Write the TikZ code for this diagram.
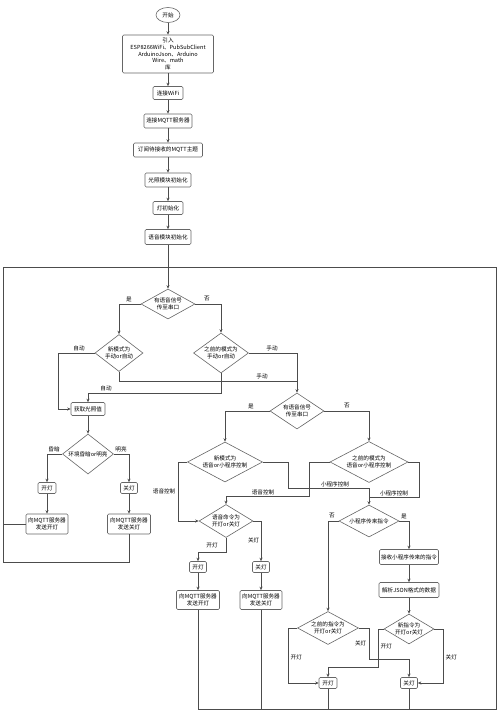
\documentclass[tikz,border=0pt]{standalone}
\usepackage{fontspec}
\setmainfont{Noto Sans CJK SC}
\usetikzlibrary{shapes.geometric,arrows.meta}
\newcommand{\fs}{\fontsize{5.6}{6.8}\selectfont}
\tikzset{
  ln/.style={draw=black!70, line width=0.6pt},
  arr/.style={ln, -{Stealth[length=3.5pt,width=3pt]}},
  box/.style={draw=black!60, line width=0.6pt, rounded corners=1.2pt, fill=white, inner sep=0.5pt, align=center, font=\fs},
  term/.style={ellipse, draw=black!60, line width=0.6pt, fill=white, inner sep=0pt, font=\fs, minimum width=24, minimum height=15},
  dec/.style={diamond, draw=black!60, line width=0.6pt, fill=white, inner sep=0pt, align=center, font=\fs},
  lbl/.style={font=\fs, inner sep=0.5pt}
}
\begin{document}
\begin{tikzpicture}[x=1pt,y=-1pt]
\useasboundingbox (0,0) rectangle (500,715);
% top chain
\node[term] (start) at (168,15) {开始};
\node[box, minimum width=91, minimum height=38] (inc) at (168,54) {引入\\ESP8266WiFi、PubSubClient\\ArduinoJson、Arduino\\Wire、math\\库};
\node[box, minimum width=30, minimum height=13] (wifi) at (168,93) {连接WiFi};
\node[box, minimum width=48, minimum height=14] (mqtt) at (168,121) {连接MQTT服务器};
\node[box, minimum width=69, minimum height=14] (sub) at (168,150) {订阅待接收的MQTT主题};
\node[box, minimum width=46, minimum height=14] (light) at (168,180) {光照模块初始化};
\node[box, minimum width=30, minimum height=13] (lamp) at (168,208) {灯初始化};
\node[box, minimum width=46, minimum height=15] (voice) at (168,237) {语音模块初始化};
% loop frame coordinates
\coordinate (loopTL) at (3,267);
\coordinate (loopTR) at (496,267);
\coordinate (loopBR) at (496,709);
% decisions
\node[dec, minimum width=54, minimum height=30, shape aspect=1.8] (d1) at (168,304) {有语音信号\\传至串口};
\node[dec, minimum width=48, minimum height=37, shape aspect=1.3] (d2) at (119,353) {新模式为\\手动or自动};
\node[dec, minimum width=55, minimum height=40, shape aspect=1.375] (d3) at (221,353) {之前的模式为\\手动or自动};
\node[box, minimum width=34, minimum height=13] (getl) at (88,409) {获取光照值};
\node[dec, minimum width=51, minimum height=40, shape aspect=1.275] (d5) at (88,454) {环境昏暗or明亮};
\node[box, minimum width=18, minimum height=11] (on1) at (47,488) {开灯};
\node[box, minimum width=17, minimum height=11] (off1) at (129,488) {关灯};
\node[box, minimum width=42, minimum height=20] (mq1) at (47,524) {向MQTT服务器\\发送开灯};
\node[box, minimum width=43, minimum height=20] (mq2) at (129,524) {向MQTT服务器\\发送关灯};
\node[dec, minimum width=54, minimum height=36, shape aspect=1.6] (d4) at (297,411) {有语音信号\\传至串口};
\node[dec, minimum width=75, minimum height=40, shape aspect=1.875] (d6) at (225,462) {新模式为\\语音or小程序控制};
\node[dec, minimum width=78, minimum height=41, shape aspect=1.9] (d7) at (369,462) {之前的模式为\\语音or小程序控制};
\node[dec, minimum width=54, minimum height=33, shape aspect=1.636] (d8) at (226,521) {语音命令为\\开灯or关灯};
\node[box, minimum width=17, minimum height=11] (on2) at (198,567) {开灯};
\node[box, minimum width=17, minimum height=11] (off2) at (261,567) {关灯};
\node[box, minimum width=43, minimum height=19] (mq3) at (198,600) {向MQTT服务器\\发送开灯};
\node[box, minimum width=42, minimum height=19] (mq4) at (261,600) {向MQTT服务器\\发送关灯};
\node[dec, minimum width=60, minimum height=32, shape aspect=1.875] (d9) at (369,521) {小程序传来指令};
\node[box, minimum width=59, minimum height=15] (recv) at (409,557) {接收小程序传来的指令};
\node[box, minimum width=60, minimum height=15] (parse) at (409,590) {解析JSON格式的数据};
\node[dec, minimum width=61, minimum height=33, shape aspect=1.85] (d10) at (328,628) {之前的指令为\\开灯or关灯};
\node[dec, minimum width=50, minimum height=30, shape aspect=1.667] (d11) at (409,629) {新指令为\\开灯or关灯};
\node[box, minimum width=18, minimum height=11] (on3) at (328,683) {开灯};
\node[box, minimum width=17, minimum height=11] (off3) at (409,683) {关灯};
% top chain arrows
\draw[arr] (start) -- (inc);
\draw[arr] (inc) -- (wifi);
\draw[arr] (wifi) -- (mqtt);
\draw[arr] (mqtt) -- (sub);
\draw[arr] (sub) -- (light);
\draw[arr] (light) -- (lamp);
\draw[arr] (lamp) -- (voice);
\draw[arr] (voice) -- (d1);
% loop frame
\draw[ln] (mq2.south) |- (3,562) -- (loopTL) -- (loopTR) -- (loopBR) -- (mq3.south |- loopBR);
\draw[ln] (mq1.west) -- (mq1.west -| loopTL);
\draw[ln] (mq3.south) -- (mq3.south |- loopBR);
\draw[ln] (mq4.south) -- (mq4.south |- loopBR);
\draw[ln] (on3.south) -- (on3.south |- loopBR);
\draw[ln] (off3.south) -- (off3.south |- loopBR);
% d1
\draw[arr] (d1.west) -| (d2.north);
\node[lbl] (l1) at (129,299) {是};
\draw[arr] (d1.east) -| (d3.north);
\node[lbl] (l2) at (207,299) {否};
% d2
\draw[arr] (d2.west) -- (58,353) |- (getl.west);
\node[lbl] (l3) at (79,348) {自动};
\draw[ln] (d2.south) |- (297,381);
\node[lbl] (l4) at (262,376) {手动};
% d3
\draw[arr] (d3.east) -| (d4.north);
\node[lbl] (l5) at (272,348) {手动};
\draw[arr] (d3.south) |- (88,393) -- (getl.north);
\node[lbl] (l6) at (106,388) {自动};
% light branch
\draw[arr] (getl) -- (d5);
\draw[arr] (d5.west) -| (on1.north);
\node[lbl] (l7) at (54,449) {昏暗};
\draw[arr] (d5.east) -| (off1.north);
\node[lbl] (l8) at (121,449) {明亮};
\draw[arr] (on1) -- (mq1);
\draw[arr] (off1) -- (mq2);
% d4
\draw[arr] (d4.west) -| (d6.north);
\node[lbl] (l9) at (251,406) {是};
\draw[arr] (d4.east) -| (d7.north);
\node[lbl] (l10) at (347,406) {否};
% d6
\draw[arr] (d6.west) -- (178,462) |- (d8.west);
\node[lbl, anchor=east] (l11) at (176,491) {语音控制};
\draw[arr] (d6.east) -- (288,462) |- (369,488) -- (d9.north);
\node[lbl] (l12) at (335,484) {小程序控制};
% d7
\draw[arr] (d7.west) -- (309,462) |- (226,496) -- (d8.north);
\node[lbl] (l13) at (263,492) {语音控制};
\draw[ln] (d7.east) -- (419,462) |- (369,497);
\node[lbl] (l14) at (394,493) {小程序控制};
% d8
\draw[arr] (d8.south) |- (198,552) -- (on2.north);
\node[lbl] (l15) at (212,545) {开灯};
\draw[arr] (d8.east) -| (off2.north);
\node[lbl, anchor=east] (l16) at (260,540) {关灯};
\draw[arr] (on2) -- (mq3);
\draw[arr] (off2) -- (mq4);
% d9
\draw[arr] (d9.west) -| (d10.north);
\node[lbl] (l17) at (332,516) {否};
\draw[arr] (d9.east) -| (recv.north);
\node[lbl] (l18) at (404,516) {是};
\draw[arr] (recv) -- (parse);
\draw[arr] (parse) -- (d11);
% d10
\draw[arr] (d10.west) -- (288,628) |- (on3.west);
\node[lbl, anchor=west] (l19) at (290,657) {开灯};
\draw[arr] (d10.east) -- (369,628) |- (409,659) -- (off3.north);
\node[lbl, anchor=east] (l20) at (367,643) {关灯};
% d11
\draw[arr] (d11.west) -- (378,629) |- (328,667) -- (on3.north);
\node[lbl, anchor=west] (l21) at (380,646) {开灯};
\draw[arr] (d11.east) -- (443,629) |- (off3.east);
\node[lbl, anchor=west] (l22) at (445,657) {关灯};
\end{tikzpicture}
\end{document}
